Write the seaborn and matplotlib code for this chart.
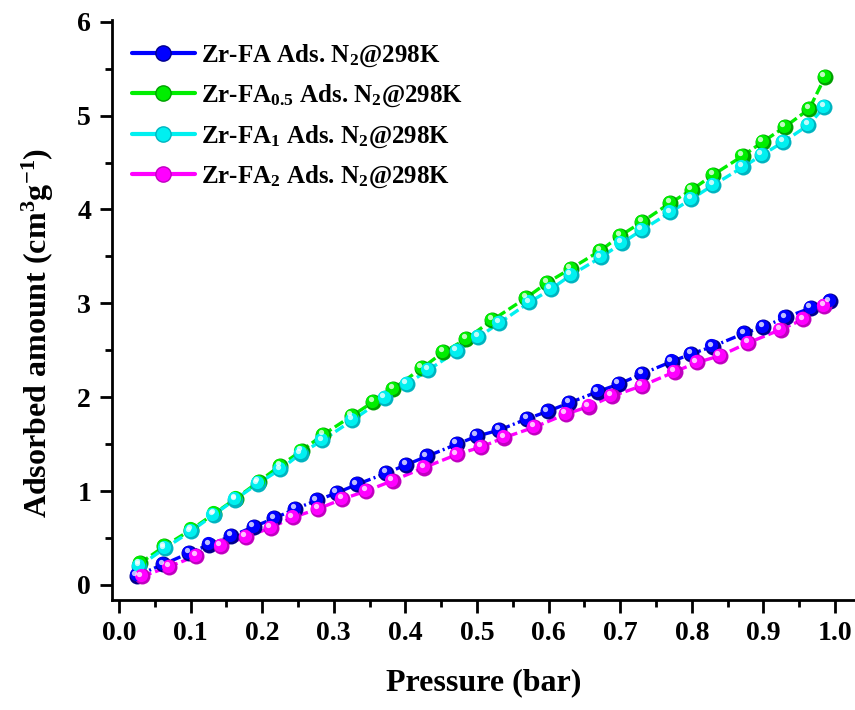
import numpy as np
import pandas as pd
import seaborn as sns
import matplotlib
matplotlib.use("Agg")
import matplotlib.pyplot as plt
from matplotlib.lines import Line2D
from matplotlib.transforms import offset_copy

# N2 adsorption isotherms at 298 K
p_fa = [0.025, 0.062, 0.098, 0.126, 0.157, 0.188, 0.217, 0.246, 0.276, 0.304,
        0.332, 0.373, 0.401, 0.430, 0.472, 0.500, 0.531, 0.570, 0.599, 0.629,
        0.669, 0.698, 0.731, 0.772, 0.799, 0.829, 0.873, 0.900, 0.931, 0.966, 0.993]
q_fa = [0.10, 0.22, 0.34, 0.43, 0.52, 0.62, 0.71, 0.81, 0.90, 0.98,
        1.07, 1.19, 1.28, 1.37, 1.50, 1.585, 1.65, 1.77, 1.85, 1.94,
        2.06, 2.14, 2.25, 2.38, 2.46, 2.54, 2.68, 2.75, 2.85, 2.95, 3.02]

p_fa05 = [0.029, 0.063, 0.101, 0.133, 0.163, 0.195, 0.225, 0.255, 0.285, 0.325,
          0.355, 0.383, 0.423, 0.453, 0.485, 0.521, 0.569, 0.598, 0.631, 0.672,
          0.700, 0.731, 0.770, 0.800, 0.830, 0.871, 0.899, 0.930, 0.964, 0.986]
q_fa05 = [0.23, 0.41, 0.59, 0.76, 0.92, 1.10, 1.27, 1.43, 1.60, 1.80,
          1.95, 2.09, 2.31, 2.48, 2.62, 2.82, 3.06, 3.22, 3.37, 3.56,
          3.72, 3.87, 4.07, 4.21, 4.37, 4.57, 4.72, 4.88, 5.07, 5.41]

p_fa1 = [0.028, 0.064, 0.100, 0.132, 0.162, 0.194, 0.225, 0.254, 0.284, 0.326,
         0.371, 0.402, 0.432, 0.472, 0.502, 0.531, 0.573, 0.603, 0.631, 0.673,
         0.702, 0.730, 0.770, 0.799, 0.830, 0.871, 0.898, 0.928, 0.963, 0.985]
q_fa1 = [0.20, 0.39, 0.57, 0.745, 0.91, 1.08, 1.23, 1.40, 1.54, 1.755,
         1.99, 2.14, 2.29, 2.49, 2.64, 2.79, 3.01, 3.15, 3.30, 3.49,
         3.64, 3.78, 3.97, 4.11, 4.26, 4.45, 4.58, 4.72, 4.90, 5.09]

p_fa2 = [0.032, 0.070, 0.108, 0.142, 0.177, 0.212, 0.243, 0.278, 0.312, 0.345,
         0.382, 0.426, 0.472, 0.506, 0.538, 0.580, 0.624, 0.656, 0.688, 0.730,
         0.776, 0.807, 0.839, 0.879, 0.924, 0.956, 0.985]
q_fa2 = [0.09, 0.195, 0.31, 0.415, 0.51, 0.61, 0.72, 0.81, 0.915, 1.00,
         1.11, 1.25, 1.39, 1.47, 1.57, 1.68, 1.82, 1.90, 2.01, 2.12,
         2.27, 2.37, 2.44, 2.58, 2.72, 2.83, 2.97]

names = ["Zr-FA", "Zr-FA0.5", "Zr-FA1", "Zr-FA2"]
labels = [r"Zr-FA Ads. N$_{2}$@298K",
          r"Zr-FA$_{0.5}$ Ads. N$_{2}$@298K",
          r"Zr-FA$_{1}$ Ads. N$_{2}$@298K",
          r"Zr-FA$_{2}$ Ads. N$_{2}$@298K"]
colors = ["#0000FF", "#00EE00", "#00F0F0", "#FF00FF"]
shade = ["#00008C", "#00A000", "#00B4C0", "#C000C0"]

x_ticks = [0.0, 0.1, 0.2, 0.3, 0.4, 0.5, 0.6, 0.7, 0.8, 0.9, 1.0]
y_ticks = [0, 1, 2, 3, 4, 5, 6]

series = [(p_fa, q_fa), (p_fa05, q_fa05), (p_fa1, q_fa1), (p_fa2, q_fa2)]
df = pd.concat(
    [pd.DataFrame({"Pressure": p, "Amount": q, "Sample": n})
     for n, (p, q) in zip(names, series)],
    ignore_index=True,
)

sns.set_theme(style="ticks")
plt.rcParams["font.family"] = ["Liberation Serif", "DejaVu Serif"]
plt.rcParams["font.weight"] = "bold"
plt.rcParams["text.color"] = "black"
plt.rcParams["axes.labelcolor"] = "black"
plt.rcParams["mathtext.fontset"] = "custom"
plt.rcParams["mathtext.rm"] = "Liberation Serif:bold"
plt.rcParams["mathtext.it"] = "Liberation Serif:bold"
plt.rcParams["mathtext.bf"] = "Liberation Serif:bold"

fig = plt.figure(figsize=(8.55, 7.10), dpi=100)
ax = fig.add_axes([0.131, 0.155, 0.869, 0.817])

dash_map = {"Zr-FA": (3.0, 1.0, 0.6, 1.0), "Zr-FA0.5": (3.0, 1.2),
            "Zr-FA1": (3.0, 1.2), "Zr-FA2": (3.0, 1.2)}
sns.lineplot(data=df, x="Pressure", y="Amount", hue="Sample", style="Sample",
             hue_order=names, style_order=names, palette=dict(zip(names, colors)),
             dashes=dash_map, markers=False, estimator=None, sort=False,
             linewidth=2.4, legend=False, ax=ax)

# spherical markers: dark rim, coloured body, white highlight
for (p, q), c, s in zip(series, colors, shade):
    ax.plot(p, q, ls="none", marker="o", ms=11.5, mfc=s, mec="none", zorder=3)
    body = offset_copy(ax.transData, fig=fig, x=-0.8, y=0.8, units="points")
    ax.plot(p, q, ls="none", marker="o", ms=9.5, mfc=c, mec="none",
            transform=body, zorder=4)
    hl = offset_copy(ax.transData, fig=fig, x=-1.8, y=2.0, units="points")
    ax.plot(p, q, ls="none", marker="o", ms=3.8, mfc="white", mec="none",
            alpha=0.75, transform=hl, zorder=5)

ax.set_xlim(-0.0098, 1.028)
ax.set_ylim(-0.16, 6.02)
ax.set_xticks(x_ticks)
ax.set_xticklabels([f"{t:.1f}" for t in x_ticks])
ax.set_yticks(y_ticks)
ax.set_yticklabels([str(t) for t in y_ticks])
ax.set_xticks(np.arange(0.05, 1.0, 0.1), minor=True)
ax.set_yticks(np.arange(0.5, 6.0, 1.0), minor=True)

for side in ("top", "right"):
    ax.spines[side].set_visible(False)
for side in ("left", "bottom"):
    ax.spines[side].set_linewidth(2.0)
    ax.spines[side].set_color("black")

ax.tick_params(axis="both", which="major", direction="out", length=9, width=2,
               labelsize=20, colors="black", labelcolor="black", pad=6)
ax.tick_params(axis="both", which="minor", direction="out", length=5, width=2,
               colors="black")
for lab in ax.get_xticklabels() + ax.get_yticklabels():
    lab.set_fontweight("bold")

ax.set_xlabel("Pressure (bar)", fontsize=23, fontweight="bold", color="black",
              labelpad=16)
ax.set_ylabel(r"Adsorbed amount (cm$^{3}$g$^{-1}$)", fontsize=23,
              fontweight="bold", color="black")
ax.yaxis.set_label_coords(-0.076, 0.46)

handles = [Line2D([], [], color=c, lw=3, marker="o", ms=11, mfc=c, mec=s)
           for c, s in zip(colors, shade)]
leg = ax.legend(handles, labels, loc="upper left", bbox_to_anchor=(0.0, 0.995),
                frameon=False,
                prop={"family": "Liberation Serif", "weight": "bold", "size": 18},
                handlelength=2.5, handletextpad=0.25, labelspacing=0.55,
                borderaxespad=0.4)
for t in leg.get_texts():
    t.set_color("black")

fig.savefig("out.png", dpi=100, facecolor="white")
